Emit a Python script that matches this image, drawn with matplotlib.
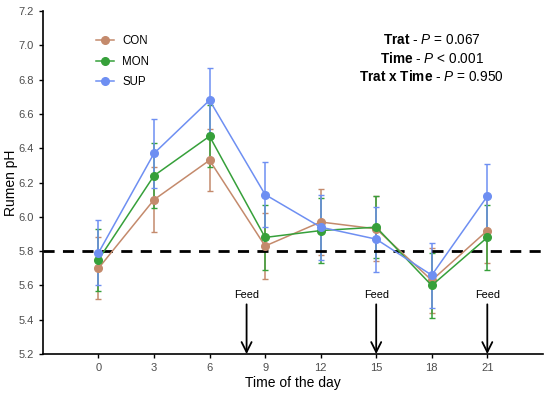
import numpy as np
import matplotlib.pyplot as plt
from matplotlib.lines import Line2D

plt.rcParams['font.family'] = ['Liberation Sans', 'DejaVu Sans']
plt.rcParams['mathtext.fontset'] = 'custom'
plt.rcParams['mathtext.rm'] = 'Liberation Sans'
plt.rcParams['mathtext.it'] = 'Liberation Sans:italic'
plt.rcParams['mathtext.bf'] = 'Liberation Sans:bold'

# Hours of sampling
hours = [0, 3, 6, 9, 12, 15, 18, 21]

# Rumen pH means and standard errors per treatment
con_mean = [5.70, 6.10, 6.33, 5.83, 5.97, 5.93, 5.63, 5.92]
con_err = [0.18, 0.19, 0.18, 0.19, 0.19, 0.19, 0.19, 0.19]
mon_mean = [5.75, 6.24, 6.47, 5.88, 5.92, 5.94, 5.60, 5.88]
mon_err = [0.18, 0.19, 0.18, 0.19, 0.19, 0.18, 0.19, 0.19]
sup_mean = [5.79, 6.37, 6.68, 6.13, 5.94, 5.87, 5.66, 6.12]
sup_err = [0.19, 0.20, 0.19, 0.19, 0.19, 0.19, 0.19, 0.19]

feed_times = [8, 15, 21]
threshold = 5.8

series = [
    ("CON", con_mean, con_err, "#C48A6C"),
    ("MON", mon_mean, mon_err, "#36A03A"),
    ("SUP", sup_mean, sup_err, "#6E8FF2"),
]

fig = plt.figure(figsize=(5.5, 3.93), dpi=100)
ax = fig.add_axes([0.078, 0.099, 0.909, 0.873])

handles = []
for name, m, e, c in series:
    ax.errorbar(hours, m, yerr=e, color=c, marker='o', markersize=5.5,
                linewidth=1.1, elinewidth=1.1, capsize=2.5, capthick=1.0)
    handles.append(Line2D([], [], color=c, marker='o', markersize=5.5,
                          linewidth=1.1, label=name))

ax.axhline(threshold, color='black', linestyle=(0, (4, 3)), linewidth=2)

for t in feed_times:
    ax.annotate("", xy=(t, 5.2), xytext=(t, 5.49),
                arrowprops=dict(arrowstyle='->', color='black', lw=1.3,
                                mutation_scale=18, shrinkA=0, shrinkB=0))
    ax.text(t, 5.545, "Feed", ha='center', va='center', fontsize=7.8)

ax.text(18.0, 7.03, r"$\bf{Trat}$ - $\it{P}$ = 0.067", ha='center', va='center', fontsize=9.8)
ax.text(18.0, 6.925, r"$\bf{Time}$ - $\it{P}$ < 0.001", ha='center', va='center', fontsize=9.8)
ax.text(18.0, 6.82, r"$\bf{Trat\ x\ Time}$ - $\it{P}$ = 0.950", ha='center', va='center', fontsize=9.8)

ax.set_xlim(-3, 24)
ax.set_ylim(5.2, 7.2)
ax.set_xticks(hours)
ax.set_yticks(np.arange(5.2, 7.21, 0.2))
ax.set_yticklabels([f"{v:.1f}" for v in np.arange(5.2, 7.21, 0.2)])
ax.tick_params(labelsize=8, labelcolor='#4D4D4D', length=3, width=1)
ax.set_xlabel("Time of the day", fontsize=10, labelpad=2)
ax.set_ylabel("Rumen pH", fontsize=10, labelpad=0)
for s in ['top', 'right']:
    ax.spines[s].set_visible(False)
for s in ['left', 'bottom']:
    ax.spines[s].set_linewidth(1.2)

ax.legend(handles=handles, loc='upper left', bbox_to_anchor=(0.085, 0.96),
          frameon=False, fontsize=8.3, handlelength=1.6, labelspacing=0.75,
          handletextpad=0.7)

fig.savefig("out.png", dpi=100)
